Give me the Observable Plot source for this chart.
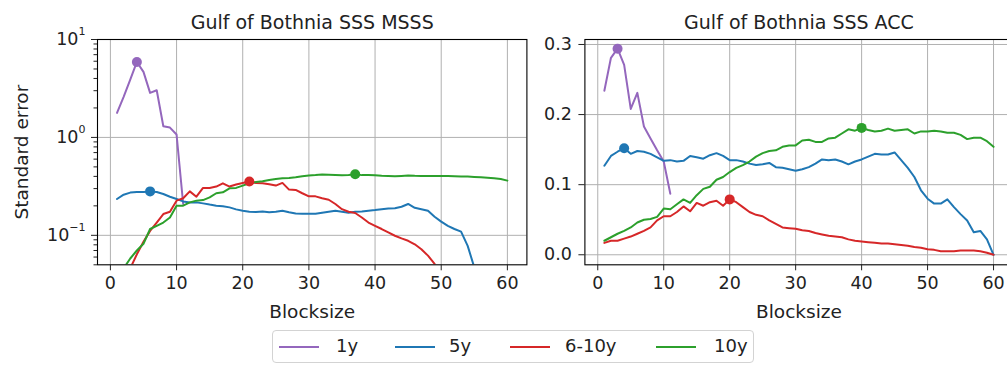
<!DOCTYPE html>
<html>
<head>
<meta charset="utf-8">
<script src="https://cdn.jsdelivr.net/npm/d3@7"></script>
<script src="https://cdn.jsdelivr.net/npm/@observablehq/plot@0.6"></script>
<style>
  html, body { margin: 0; padding: 0; background: #fff; overflow: hidden; }
  #fig { position: relative; width: 1007px; height: 365px; overflow: hidden;
         font-family: "DejaVu Sans", sans-serif; color: #222; }
  #fig svg { position: absolute; top: 0; max-width: none; }
  .legend { position: absolute; left: 272px; top: 330px; width: 482px; height: 33px;
            border: 1px solid #d3d3d3; border-radius: 4px; box-sizing: border-box; background: #fff; }
  .legend .swatch { position: absolute; top: 15px; height: 2px; width: 40px; }
  .legend .lab { position: absolute; top: 4px; font-size: 18px; line-height: 22px; white-space: nowrap; }
</style>
</head>
<body>
<div id="fig"></div>
<script>
// Block sizes (x) shared by every series
const blocksize = [1,2,3,4,5,6,7,8,9,10,11,12,13,14,15,16,17,18,19,20,
  21,22,23,24,25,26,27,28,29,30,31,32,33,34,35,36,37,38,39,40,
  41,42,43,44,45,46,47,48,49,50,51,52,53,54,55,56,57,58,59,60];

const seriesNames = ["1y", "5y", "6-10y", "10y"];
const seriesColors = ["#9467bd", "#1f77b4", "#d62728", "#2ca02c"];
const xTicks = [0, 10, 20, 30, 40, 50, 60];

// Gulf of Bothnia SSS MSSS — standard error (log scale)
const msss1y = [1.78, 2.6, 3.9, 5.9, 4.67, 2.85, 3.03, 1.30, 1.26, 1.07, 0.209];
const msss5y = [0.235, 0.260, 0.273, 0.277, 0.277, 0.281, 0.277, 0.264, 0.248, 0.235,
  0.222, 0.216, 0.217, 0.212, 0.206, 0.201, 0.198, 0.193, 0.184, 0.178,
  0.174, 0.173, 0.175, 0.172, 0.174, 0.178, 0.172, 0.167, 0.166, 0.166,
  0.166, 0.170, 0.174, 0.178, 0.174, 0.170, 0.174, 0.175, 0.178, 0.181,
  0.185, 0.188, 0.189, 0.196, 0.209, 0.191, 0.185, 0.178, 0.155, 0.138,
  0.125, 0.116, 0.109, 0.078, 0.047];
const msss610y = [0.025, 0.034, 0.046, 0.064, 0.086, 0.111, 0.135, 0.165, 0.174, 0.226,
  0.239, 0.281, 0.248, 0.305, 0.305, 0.315, 0.340, 0.315, 0.330, 0.343,
  0.354, 0.343, 0.340, 0.333, 0.322, 0.343, 0.293, 0.291, 0.269, 0.250,
  0.250, 0.239, 0.231, 0.209, 0.185, 0.174, 0.169, 0.152, 0.135, 0.125,
  0.116, 0.107, 0.099, 0.093, 0.088, 0.081, 0.072, 0.062, 0.051, 0.040];
const msss10y = [0.035, 0.046, 0.058, 0.070, 0.082, 0.116, 0.125, 0.135, 0.152, 0.201,
  0.201, 0.217, 0.226, 0.229, 0.244, 0.269, 0.275, 0.302, 0.305, 0.322,
  0.340, 0.350, 0.356, 0.368, 0.377, 0.383, 0.386, 0.392, 0.401, 0.408,
  0.412, 0.418, 0.416, 0.414, 0.410, 0.414, 0.420, 0.412, 0.414, 0.410,
  0.405, 0.403, 0.401, 0.404, 0.408, 0.405, 0.404, 0.404, 0.404, 0.404,
  0.403, 0.401, 0.400, 0.398, 0.395, 0.392, 0.387, 0.383, 0.376, 0.362];

// Gulf of Bothnia SSS ACC — standard error (linear scale)
const acc1y = [0.234, 0.281, 0.294, 0.271, 0.208, 0.231, 0.183, 0.166, 0.149, 0.133, 0.087];
const acc5y = [0.127, 0.141, 0.147, 0.152, 0.144, 0.148, 0.147, 0.144, 0.139, 0.134,
  0.135, 0.133, 0.134, 0.141, 0.139, 0.137, 0.142, 0.145, 0.141, 0.135,
  0.135, 0.133, 0.130, 0.128, 0.129, 0.131, 0.125, 0.124, 0.122, 0.120,
  0.122, 0.125, 0.130, 0.136, 0.135, 0.136, 0.133, 0.129, 0.133, 0.136,
  0.140, 0.144, 0.143, 0.143, 0.146, 0.135, 0.124, 0.111, 0.092, 0.080,
  0.073, 0.073, 0.079, 0.068, 0.058, 0.049, 0.032, 0.034, 0.022, 0.000];
const acc610y = [0.017, 0.020, 0.020, 0.023, 0.026, 0.030, 0.034, 0.039, 0.049, 0.055,
  0.055, 0.061, 0.069, 0.062, 0.074, 0.070, 0.075, 0.077, 0.070, 0.079,
  0.075, 0.068, 0.061, 0.057, 0.055, 0.049, 0.044, 0.039, 0.038, 0.037,
  0.035, 0.034, 0.031, 0.029, 0.027, 0.026, 0.025, 0.022, 0.020, 0.019,
  0.018, 0.017, 0.016, 0.016, 0.015, 0.014, 0.013, 0.011, 0.010, 0.008,
  0.007, 0.005, 0.005, 0.005, 0.006, 0.006, 0.006, 0.005, 0.003, 0.000];
const acc10y = [0.020, 0.025, 0.030, 0.034, 0.039, 0.046, 0.050, 0.051, 0.054, 0.066,
  0.065, 0.072, 0.079, 0.074, 0.085, 0.094, 0.097, 0.107, 0.111, 0.118,
  0.124, 0.128, 0.133, 0.140, 0.145, 0.148, 0.149, 0.154, 0.156, 0.156,
  0.163, 0.164, 0.161, 0.161, 0.166, 0.167, 0.173, 0.179, 0.177, 0.181,
  0.178, 0.176, 0.177, 0.180, 0.177, 0.178, 0.179, 0.173, 0.176, 0.176,
  0.177, 0.176, 0.174, 0.174, 0.171, 0.165, 0.167, 0.167, 0.162, 0.154];

const logMajor = [0.1, 1, 10];
const logMinor = [0.05, 0.06, 0.07, 0.08, 0.09, 0.2, 0.3, 0.4, 0.5, 0.6, 0.7, 0.8, 0.9,
  2, 3, 4, 5, 6, 7, 8, 9];
const linTicks = [0, 0.1, 0.2, 0.3];

const rows = (values) => values.map((v, i) => ({blocksize: blocksize[i], value: v}));

function seriesMarks(list) {
  const tables = list.map(rows);
  const lines = tables.map((t, i) =>
    Plot.lineY(t, {x: "blocksize", y: "value", stroke: seriesColors[i], strokeWidth: 2, clip: true}));
  const dots = tables.map((t, i) =>
    Plot.dot([d3.greatest(t, (d) => d.value)],
      {x: "blocksize", y: "value", r: 5, fill: seriesColors[i], stroke: "none", clip: true}));
  return [...lines, ...dots];
}

const gridStyle = {stroke: "#b0b0b0", strokeOpacity: 1, strokeWidth: 1};
const textStyle = {fill: "#222", fontFamily: "DejaVu Sans, sans-serif"};

function frameText(label, opts) {
  return Plot.text([label], {text: (d) => d, textAnchor: "middle", lineAnchor: "middle", ...textStyle, ...opts});
}

// Left panel: MSSS on a log axis with 10^n tick labels
const expWidth = {"-1": 16.2, "0": 7.0, "1": 7.0};
const powerLabels = logMajor.flatMap((v) => {
  const e = String(Math.round(Math.log10(v)));
  return [
    Plot.text([v], {y: (d) => d, frameAnchor: "left", text: () => "10", textAnchor: "end",
      lineAnchor: "middle", dx: -12 - expWidth[e], fontSize: 17.5, ...textStyle}),
    Plot.text([v], {y: (d) => d, frameAnchor: "left", text: () => e.replace("-", "\u2212"),
      textAnchor: "end", lineAnchor: "middle", dx: -12, dy: -8, fontSize: 11, ...textStyle})
  ];
});

const left = Plot.plot({
  width: 540, height: 365,
  marginLeft: 97, marginRight: 13.6, marginTop: 39, marginBottom: 100.7,
  style: {fontFamily: "DejaVu Sans, sans-serif", fontSize: "17.5px", color: "#222", background: "transparent", overflow: "visible"},
  x: {domain: [-1.95, 62.95]},
  y: {type: "log", domain: [0.05, 10]},
  marks: [
    Plot.gridX({ticks: xTicks, ...gridStyle}),
    Plot.gridY({ticks: logMajor, ...gridStyle}),
    ...seriesMarks([msss1y, msss5y, msss610y, msss10y]),
    Plot.frame({stroke: "#000", strokeWidth: 1.1}),
    Plot.axisX({ticks: xTicks, tickSize: 6, tickPadding: 6, label: null, tickFormat: (d) => String(d)}),
    Plot.axisY({ticks: logMinor, tickSize: 3.5, tickFormat: () => "", label: null}),
    Plot.axisY({ticks: logMajor, tickSize: 6, tickFormat: () => "", label: null}),
    ...powerLabels,
    frameText("Gulf of Bothnia SSS MSSS", {frameAnchor: "top", dy: -17, fontSize: 19}),
    frameText("Blocksize", {frameAnchor: "bottom", dy: 47, fontSize: 18.5}),
    frameText("Standard error", {frameAnchor: "left", dx: -75, rotate: -90, fontSize: 18.5})
  ]
});

// Right panel: ACC on a linear axis
const right = Plot.plot({
  width: 480, height: 365,
  marginLeft: 44.4, marginRight: 7.5, marginTop: 39, marginBottom: 100.7,
  style: {fontFamily: "DejaVu Sans, sans-serif", fontSize: "17.5px", color: "#222", background: "transparent", overflow: "visible"},
  x: {domain: [-1.95, 62.95]},
  y: {domain: [-0.0143, 0.3071]},
  marks: [
    Plot.gridX({ticks: xTicks, ...gridStyle}),
    Plot.gridY({ticks: linTicks, ...gridStyle}),
    ...seriesMarks([acc1y, acc5y, acc610y, acc10y]),
    Plot.frame({stroke: "#000", strokeWidth: 1.1}),
    Plot.axisX({ticks: xTicks, tickSize: 6, tickPadding: 6, label: null, tickFormat: (d) => String(d)}),
    Plot.axisY({ticks: linTicks, tickSize: 6, tickPadding: 7, label: null, tickFormat: d3.format(".1f")}),
    frameText("Gulf of Bothnia SSS ACC", {frameAnchor: "top", dy: -17, fontSize: 19}),
    frameText("Blocksize", {frameAnchor: "bottom", dy: 47, fontSize: 18.5})
  ]
});

const fig = document.getElementById("fig");
left.style.left = "0px";
right.style.left = "540px";
fig.appendChild(left);
fig.appendChild(right);

// Shared legend below both panels
const legend = document.createElement("div");
legend.className = "legend";
const swatchLeft = [6, 122, 237, 383];
const labelLeft = [63, 176, 292, 441];
seriesNames.forEach((name, i) => {
  const sw = document.createElement("div");
  sw.className = "swatch";
  sw.style.left = swatchLeft[i] + "px";
  sw.style.background = seriesColors[i];
  legend.appendChild(sw);
  const lb = document.createElement("div");
  lb.className = "lab";
  lb.style.left = labelLeft[i] + "px";
  lb.textContent = name;
  legend.appendChild(lb);
});
fig.appendChild(legend);
</script>
</body>
</html>
